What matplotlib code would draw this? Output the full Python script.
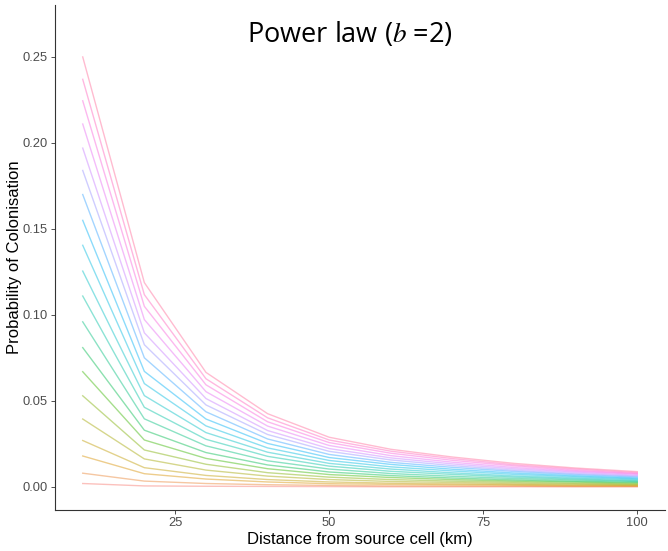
import numpy as np
import matplotlib
matplotlib.use("Agg")
import matplotlib.pyplot as plt

# distance from source cell (km)
distance = [10, 20, 30, 40, 50, 60, 70, 80, 90, 100]

# probability of colonisation, one list per curve (lowest to highest)
series_01 = [0.0020, 0.0006, 0.0004, 0.0003, 0.0002, 0.0001, 0.0001, 0.0001, 0.0001, 0.0001]
series_02 = [0.0080, 0.0034, 0.0020, 0.0013, 0.0009, 0.0006, 0.0005, 0.0004, 0.0003, 0.0003]
series_03 = [0.0180, 0.0077, 0.0046, 0.0029, 0.0019, 0.0015, 0.0012, 0.0010, 0.0007, 0.0006]
series_04 = [0.0270, 0.0112, 0.0067, 0.0043, 0.0029, 0.0022, 0.0018, 0.0014, 0.0011, 0.0009]
series_05 = [0.0395, 0.0163, 0.0098, 0.0063, 0.0043, 0.0032, 0.0026, 0.0020, 0.0016, 0.0013]
series_06 = [0.0530, 0.0215, 0.0132, 0.0083, 0.0057, 0.0043, 0.0034, 0.0027, 0.0021, 0.0017]
series_07 = [0.0670, 0.0273, 0.0166, 0.0106, 0.0072, 0.0055, 0.0043, 0.0034, 0.0028, 0.0022]
series_08 = [0.0810, 0.0330, 0.0200, 0.0128, 0.0087, 0.0066, 0.0052, 0.0041, 0.0033, 0.0027]
series_09 = [0.0960, 0.0396, 0.0239, 0.0152, 0.0104, 0.0078, 0.0062, 0.0049, 0.0040, 0.0032]
series_10 = [0.1110, 0.0463, 0.0277, 0.0178, 0.0121, 0.0091, 0.0073, 0.0057, 0.0046, 0.0036]
series_11 = [0.1255, 0.0531, 0.0316, 0.0202, 0.0137, 0.0104, 0.0082, 0.0064, 0.0052, 0.0042]
series_12 = [0.1405, 0.0601, 0.0355, 0.0227, 0.0154, 0.0117, 0.0093, 0.0073, 0.0059, 0.0047]
series_13 = [0.1550, 0.0672, 0.0395, 0.0253, 0.0171, 0.0131, 0.0103, 0.0081, 0.0065, 0.0052]
series_14 = [0.1700, 0.0751, 0.0437, 0.0279, 0.0189, 0.0143, 0.0114, 0.0090, 0.0072, 0.0058]
series_15 = [0.1840, 0.0827, 0.0477, 0.0305, 0.0207, 0.0157, 0.0124, 0.0097, 0.0078, 0.0063]
series_16 = [0.1970, 0.0896, 0.0514, 0.0328, 0.0223, 0.0169, 0.0134, 0.0105, 0.0085, 0.0068]
series_17 = [0.2110, 0.0973, 0.0554, 0.0354, 0.0241, 0.0182, 0.0144, 0.0113, 0.0091, 0.0074]
series_18 = [0.2245, 0.1050, 0.0594, 0.0379, 0.0258, 0.0196, 0.0155, 0.0122, 0.0097, 0.0078]
series_19 = [0.2370, 0.1118, 0.0629, 0.0402, 0.0273, 0.0208, 0.0165, 0.0129, 0.0104, 0.0083]
series_20 = [0.2500, 0.1188, 0.0666, 0.0426, 0.0289, 0.0219, 0.0174, 0.0137, 0.0110, 0.0089]

all_series = [series_01, series_02, series_03, series_04, series_05,
              series_06, series_07, series_08, series_09, series_10,
              series_11, series_12, series_13, series_14, series_15,
              series_16, series_17, series_18, series_19, series_20]


def hcl_to_rgb(h, c=100.0, l=65.0):
    # polar Luv -> XYZ -> sRGB, like ggplot's hue palette
    hr = np.deg2rad(h)
    u = c * np.cos(hr)
    v = c * np.sin(hr)
    xn, yn, zn = 95.047, 100.0, 108.883
    un = 4 * xn / (xn + 15 * yn + 3 * zn)
    vn = 9 * yn / (xn + 15 * yn + 3 * zn)
    y = yn * ((l + 16) / 116) ** 3
    up = u / (13 * l) + un
    vp = v / (13 * l) + vn
    x = y * 9 * up / (4 * vp)
    z = y * (12 - 3 * up - 20 * vp) / (4 * vp)
    xyz = np.array([x, y, z]) / 100
    m = np.array([[3.2406, -1.5372, -0.4986],
                  [-0.9689, 1.8758, 0.0415],
                  [0.0557, -0.2040, 1.0570]])
    rgb = m @ xyz
    rgb = np.where(rgb <= 0.0031308, 12.92 * rgb, 1.055 * np.abs(rgb) ** (1 / 2.4) - 0.055)
    return tuple(np.clip(rgb, 0, 1))


n = len(all_series)
hues = np.linspace(15, 375, n + 1)[:n]

plt.rcParams['font.family'] = ['Liberation Sans', 'DejaVu Sans']
plt.rcParams['mathtext.fontset'] = 'stix'

fig = plt.figure(figsize=(6.68, 5.51), dpi=100)
ax = fig.add_axes([55 / 668, 1 - 510 / 551, 610 / 668, 505 / 551])

for vals, h in zip(all_series, hues):
    ax.plot(distance, vals, color=hcl_to_rgb(h), alpha=0.45, lw=1.0)

ax.set_xlim(5.5, 104.5)
ax.set_ylim(-0.0134, 0.2802)
ax.set_xticks([25, 50, 75, 100])
ax.set_yticks([0.0, 0.05, 0.10, 0.15, 0.20, 0.25])
ax.set_yticklabels(['0.00', '0.05', '0.10', '0.15', '0.20', '0.25'])

for s in ['top', 'right']:
    ax.spines[s].set_visible(False)
for s in ['left', 'bottom']:
    ax.spines[s].set_color('#333333')
    ax.spines[s].set_linewidth(0.8)
ax.tick_params(colors='#333333', labelcolor='#4D4D4D', labelsize=9.3, length=3, width=0.6, pad=2)

ax.set_xlabel('Distance from source cell (km)', fontsize=12, labelpad=2)
ax.set_ylabel('Probability of Colonisation', fontsize=12)
ax.yaxis.set_label_coords(-33 / 610, 0.5)

fig.text(350 / 668, 1 - 35 / 551, r'Power law ($b$ =2)', ha='center', va='center',
         fontsize=19.5, family=['Open Sans', 'DejaVu Sans'])

fig.savefig('out.png', dpi=100)
